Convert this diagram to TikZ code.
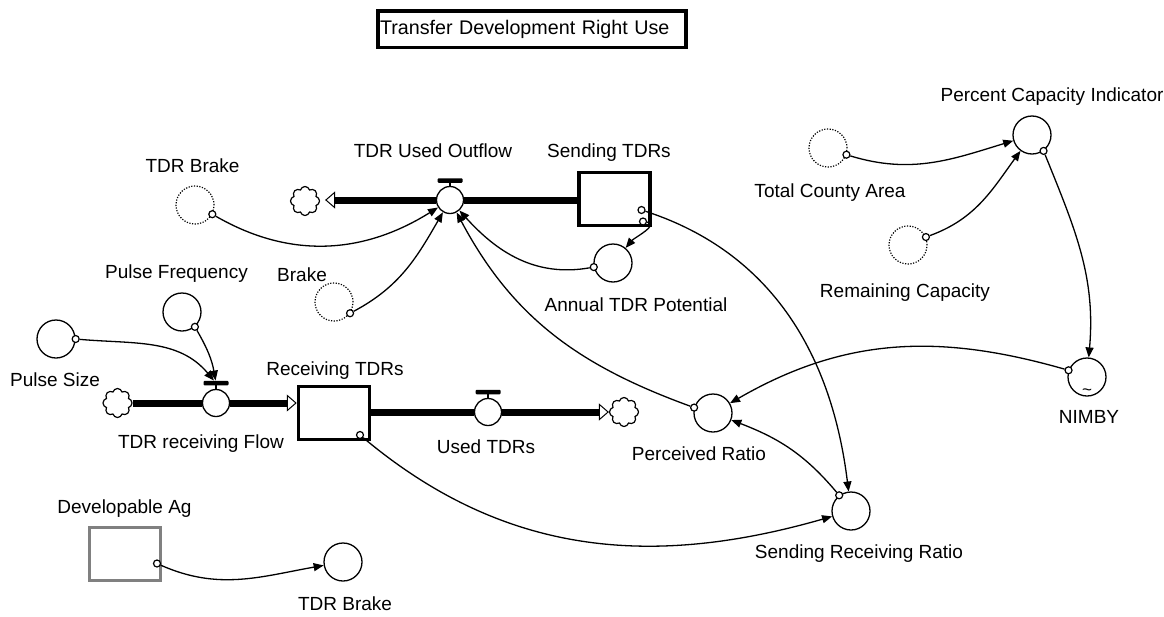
\documentclass[tikz,border=0pt]{standalone}
\usepackage{fontspec}
\setmainfont{Liberation Sans}
\usepackage{tikz}
\usetikzlibrary{arrows.meta, shapes.symbols}
\definecolor{aggray}{RGB}{128,128,128}
\tikzset{
  lbl/.style={font=\fontsize{19}{21}\selectfont, anchor=base, inner sep=0pt},
  titlebox/.style={rectangle, draw, line width=3.5pt, inner xsep=2pt,
    text width=304pt, align=left, minimum height=36.5pt,
    font=\fontsize{19.7}{22}\selectfont},
  aux/.style={circle, draw, fill=white, minimum size=38pt, inner sep=0pt, line width=1.3pt},
  ghost/.style={circle, draw, dash pattern=on 1.2pt off 1.5pt, minimum size=38pt,
    inner sep=0pt, line width=1.2pt},
  valve/.style={circle, draw, fill=white, minimum size=27pt, inner sep=0pt, line width=1.3pt},
  valvebar/.style={rectangle, fill=black, minimum width=25pt, minimum height=4.5pt,
    inner sep=0pt, rounded corners=1pt},
  stock/.style={rectangle, draw, line width=3.5pt, minimum width=71pt,
    minimum height=53pt, inner sep=0pt},
  sink/.style={cloud, cloud puffs=8, aspect=1, draw, minimum width=29pt,
    minimum height=29pt, inner sep=0pt, line width=1.2pt},
  tap/.style={circle, draw, fill=white, minimum size=7pt, inner sep=0pt, line width=1.2pt},
  pipe/.style={line width=7pt},
  pipeend/.style={pipe, -{Triangle[open, length=10pt, width=17pt, line width=1pt]}},
  link/.style={-{Triangle[length=10pt, width=8pt]}, line width=1.3pt}
}

\begin{document}
\begin{tikzpicture}[x=1pt, y=-1pt]
  \useasboundingbox (0,0) rectangle (1164,616);
  % Title
  \node[titlebox] (title) at (532,29) {Transfer Development Right Use};

  % Outflow chain
  \node[stock] (sending) at (614.5,199) {};
  \node[valve] (outvalve) at (450,200) {};
  \node[valvebar] (outbar) at (450,180.5) {};
  \node[sink] (sinkA) at (305,201) {};
  \draw[line width=1.5pt] (outbar) -- (outvalve);
  \draw[pipe] (sending.west |- outvalve) -- (outvalve.east);
  \draw[pipeend, shorten >=5pt] (outvalve.west) -- (sinkA.east |- outvalve);

  % Inflow chain
  \node[sink] (sourceB) at (117.5,403) {};
  \node[valve] (inflow) at (216,403) {};
  \node[valvebar] (inbar) at (216,383) {};
  \node[stock] (receiving) at (334,413) {};
  \node[valve] (usedvalve) at (488,412) {};
  \node[valvebar] (usedbar) at (488,392) {};
  \node[sink] (sinkC) at (624,412) {};
  \draw[line width=1.5pt] (inbar) -- (inflow);
  \draw[line width=1.5pt] (usedbar) -- (usedvalve);
  \draw[pipe] (sourceB.east |- inflow) -- (inflow.west);
  \draw[pipeend] (inflow.east) -- (inflow.east -| receiving.west);
  \draw[pipe] (receiving.east |- usedvalve) -- (usedvalve.west);
  \draw[pipeend] (usedvalve.east) -- (sinkC.west |- usedvalve);

  % Auxiliaries
  \node[ghost] (tdrbrake) at (195,205) {};
  \node[ghost] (brake) at (334,302) {};
  \node[aux] (annual) at (613,263) {};
  \node[aux] (pulsesize) at (56,339) {};
  \node[aux] (pulsefreq) at (182,312) {};
  \node[aux] (perceived) at (713,413) {};
  \node[aux] (srratio) at (851,511) {};
  \node[aux] (nimby) at (1087,377) {};
  \node[font=\fontsize{17}{17}\selectfont] (nimbymark) at (1087,392) {\textasciitilde};
  \node[aux] (pctcap) at (1032,135) {};
  \node[ghost] (county) at (828,148) {};
  \node[ghost] (remaining) at (908,245) {};
  \node[stock, draw=aggray, line width=3pt] (devag) at (125,553.5) {};
  \node[aux] (tdrbrakeB) at (343,562) {};

  % Taps
  \node[tap] (t-tdrbrake) at (tdrbrake.-28) {};
  \node[tap] (t-brake) at (brake.-35) {};
  \node[tap] (t-sendA) at ([shift={(27,11)}]sending.center) {};
  \node[tap] (t-sendB) at ([shift={(28.5,22.5)}]sending.center) {};
  \node[tap] (t-annual) at (annual.192) {};
  \node[tap] (t-receiving) at ([shift={(26,22)}]receiving.center) {};
  \node[tap] (t-pulsesize) at (pulsesize.0) {};
  \node[tap] (t-pulsefreq) at (pulsefreq.-49) {};
  \node[tap] (t-devag) at ([shift={(32,10)}]devag.center) {};
  \node[tap] (t-county) at (county.-20) {};
  \node[tap] (t-remaining) at (remaining.24) {};
  \node[tap] (t-pctcap) at (pctcap.-54) {};
  \node[tap] (t-nimby) at (nimby.160) {};
  \node[tap] (t-perceived) at (perceived.164) {};
  \node[tap] (t-srratio) at (srratio.127) {};

  % Links
  \draw[link] (t-tdrbrake) to[out=-30, in=212] (outvalve);
  \draw[link] (t-brake) to[out=28, in=240] (outvalve);
  \draw[link] (t-perceived) to[out=160, in=-62] (outvalve);
  \draw[link] (t-annual) to[out=190, in=-48] (outvalve);
  \draw[link] (t-sendB) to[out=-10, in=50] (annual);
  \draw[link] (t-sendA) to[out=-18, in=97] (srratio);
  \draw[link] (t-receiving) to[out=-40, in=196] (srratio);
  \draw[link] (t-srratio) to[out=130, in=-21] (perceived);
  \draw[link] (t-nimby) to[out=164, in=30] (perceived);
  \draw[link] (t-pctcap) to[out=-68, in=85] (nimby);
  \draw[link] (t-county) to[out=-17, in=197] (pctcap);
  \draw[link] (t-remaining) to[out=20, in=234] (pctcap);
  \draw[link] (t-pulsesize) to[out=-5, in=130] (inbar);
  \draw[link] (t-pulsefreq) to[out=-60, in=100] (inbar);
  \draw[link] (t-devag) to[out=-24, in=190] (tdrbrakeB);

  % Labels
  \node[lbl] (l-outflow) at (433,157) {TDR Used Outflow};
  \node[lbl] (l-sending) at (609,157) {Sending TDRs};
  \node[lbl] (l-tdrbrake) at (192.5,172) {TDR Brake};
  \node[lbl] (l-brake) at (302,281) {Brake};
  \node[lbl] (l-annual) at (636,311) {Annual TDR Potential};
  \node[lbl] (l-pulsefreq) at (176.5,278) {Pulse Frequency};
  \node[lbl] (l-pulsesize) at (55,386) {Pulse Size};
  \node[lbl] (l-receiving) at (335,375) {Receiving TDRs};
  \node[lbl] (l-inflow) at (201,448) {TDR receiving Flow};
  \node[lbl] (l-used) at (486,453) {Used TDRs};
  \node[lbl] (l-perceived) at (699,460) {Perceived Ratio};
  \node[lbl] (l-srratio) at (859,558) {Sending Receiving Ratio};
  \node[lbl] (l-nimby) at (1089,423) {NIMBY};
  \node[lbl] (l-devag) at (124.5,513) {Developable Ag};
  \node[lbl] (l-tdrbrakeB) at (345,610) {TDR Brake};
  \node[lbl] (l-county) at (830,197) {Total County Area};
  \node[lbl] (l-remaining) at (905,297) {Remaining Capacity};
  \node[lbl] (l-pctcap) at (1052,101) {Percent Capacity Indicator};
\end{tikzpicture}
\end{document}
